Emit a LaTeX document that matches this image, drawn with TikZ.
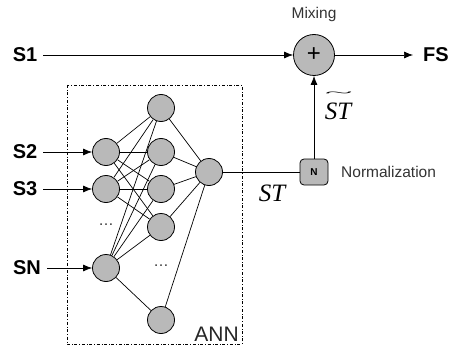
\documentclass[tikz,border=0pt]{standalone}
\usepackage{fontspec}
\setmainfont{Liberation Sans}
\newfontfamily\tms{Liberation Serif}
\usetikzlibrary{arrows.meta}
\begin{document}
\begin{tikzpicture}[x=1pt,y=-1pt,
  neuron/.style={circle,draw,fill=gray!55,minimum size=27pt,inner sep=0pt,line width=0.8pt},
  sig/.style={font=\fontsize{20}{22}\selectfont\bfseries,inner sep=0pt},
  lbl/.style={font=\fontsize{15.5}{17}\selectfont,inner sep=0pt,text=black!80},
  mathlbl/.style={font=\fontsize{25}{27}\selectfont\tms\itshape,inner sep=0pt},
  arr/.style={-{Latex[length=9pt,width=7pt]},line width=0.7pt},
  link/.style={line width=0.7pt}]
\useasboundingbox (0,0) rectangle (452,350);

% network frame
\draw[dash dot,line width=0.6pt] (67,85) rectangle (242,344);
\node[font=\fontsize{21}{22}\selectfont,anchor=south east,inner sep=1pt,text=black!85] (ann) at (240,343) {ANN};

% neurons
\node[neuron] (i1) at (106,152) {};
\node[neuron] (i2) at (106,189) {};
\node[neuron] (i3) at (106,268) {};
\node[neuron] (h1) at (161,108) {};
\node[neuron] (h2) at (161,152) {};
\node[neuron] (h3) at (161,189) {};
\node[neuron] (h4) at (161,227) {};
\node[neuron] (h5) at (161,320) {};
\node[neuron] (o) at (209,172) {};
\node[lbl] (d1) at (106,225) {\dots};
\node[lbl] (d2) at (161,266) {\dots};

% weights
\foreach \a in {i1,i2,i3}
  \foreach \b in {h1,h2,h3,h4}
    \draw[link] (\a) -- (\b);
\draw[link] (i3) -- (h5);
\foreach \b in {h1,h2,h3,h4,h5}
  \draw[link] (\b) -- (o);

% inputs
\node[sig] (s1) at (25,55) {S1};
\node[sig] (s2) at (25,152) {S2};
\node[sig] (s3) at (25,189) {S3};
\node[sig] (sn) at (27,268) {SN};
\draw[arr,shorten <=6pt] (s2.east) -- (i1.west);
\draw[arr,shorten <=6pt] (s3.east) -- (i2.west);
\draw[arr,shorten <=6pt] (sn.east) -- (i3.west);

% mixing and normalisation
\node[circle,draw,fill=gray!55,minimum size=41pt,inner sep=0pt,line width=0.8pt,font=\fontsize{24}{24}\selectfont] (mix) at (314,55) {+};
\node[lbl,anchor=south] (mixl) at (314,22) {Mixing};
\node[draw,fill=gray!55,rounded corners=4pt,minimum width=28pt,minimum height=26pt,inner sep=0pt,line width=0.8pt,font=\fontsize{10}{10}\selectfont\bfseries] (nrm) at (314,172) {N};
\node[lbl,anchor=west] (nrml) at (341,172) {Normalization};
\node[sig] (fs) at (436,55) {FS};

\draw[arr,shorten <=6pt] (s1.east) -- (mix.west);
\draw[arr,shorten >=10pt] (mix.east) -- (fs.west);
\draw[link] (o.east) -- (nrm.west);
\draw[arr] (nrm.north) -- (mix.south);
\node[mathlbl] (st) at (272,193) {ST};
\node[mathlbl,align=center] (stt) at (338,106)
  {\resizebox{28pt}{4.5pt}{\textasciitilde}\\[-4pt]ST};
\end{tikzpicture}
\end{document}
